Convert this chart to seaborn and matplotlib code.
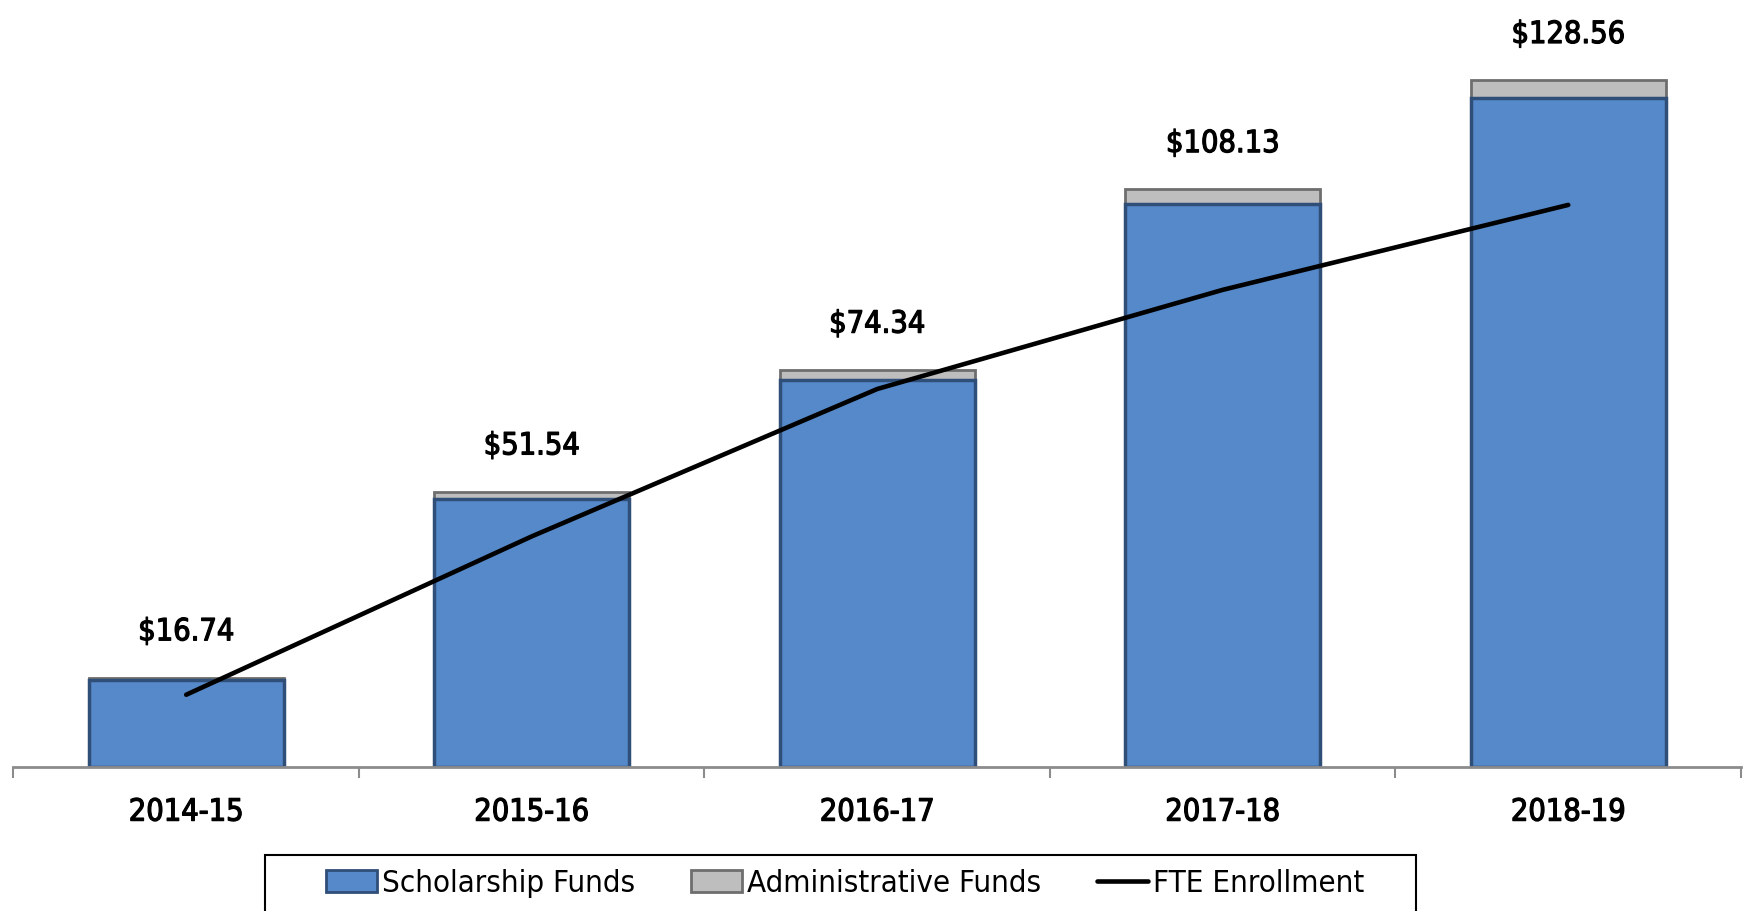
import numpy as np
import pandas as pd
import matplotlib
matplotlib.use("Agg")
import matplotlib.pyplot as plt
import matplotlib.patheffects as pe
import seaborn as sns
from matplotlib.patches import Patch, Rectangle
from matplotlib.lines import Line2D

years = ["2014-15", "2015-16", "2016-17", "2017-18", "2018-19"]
totals = [16.74, 51.54, 74.34, 108.13, 128.56]
admin_funds = [0.5, 1.3, 1.9, 2.7, 3.3]
scholarship_funds = [t - a for t, a in zip(totals, admin_funds)]
fte_enrollment = [1320, 4210, 6900, 8710, 10260]
labels = ["$16.74", "$51.54", "$74.34", "$108.13", "$128.56"]

sns.set_theme(style="white")
plt.rcParams['font.family'] = ['DejaVu Sans']
plt.rcParams['font.stretch'] = 'condensed'

medium = [pe.withStroke(linewidth=0.9, foreground="black")]

fig = plt.figure(figsize=(17.48, 9.11), dpi=100)
ax = fig.add_axes([0.0077, 0.158, 0.9883, 0.842])

df = pd.DataFrame({"year": years, "total": totals, "scholar": scholarship_funds})
blue = "#5589C9"
gray = "#BEBEBE"
sns.barplot(data=df, x="year", y="total", color=gray, width=0.565, ax=ax,
            edgecolor="#6E6E6E", linewidth=2, saturation=1)
sns.barplot(data=df, x="year", y="scholar", color=blue, width=0.565, ax=ax,
            edgecolor="#2F4E78", linewidth=2.5, saturation=1)

ax.set_xlim(-0.5, 4.5)
ax.set_ylim(0, 143.6)
ax.set_xlabel("")
ax.set_ylabel("")
ax.set_yticks([])
for s in ["top", "left", "right"]:
    ax.spines[s].set_visible(False)
ax.spines["bottom"].set_color("#8C8C8C")
ax.spines["bottom"].set_linewidth(2)
ax.set_xticks(range(5))
ax.set_xticklabels(years, fontsize=22, color="black")
for t in ax.get_xticklabels():
    t.set_path_effects(medium)
ax.tick_params(axis="x", which="major", length=0, pad=22)
ax.set_xticks(np.arange(-0.5, 5, 1), minor=True)
ax.tick_params(axis="x", which="minor", length=8, width=1.5, color="#8C8C8C", bottom=True)

for i, (t, lab) in enumerate(zip(totals, labels)):
    ax.annotate(lab, xy=(i, t), xytext=(0, 33), textcoords="offset points",
                ha="center", va="center", fontsize=22, color="black",
                path_effects=medium)

ax2 = ax.twinx()
sns.lineplot(x=np.arange(5), y=fte_enrollment, ax=ax2, color="black", linewidth=3.3)
ax2.set_ylim(0, 14000)
ax2.set_xlim(-0.5, 4.5)
ax2.set_yticks([])
for s in ["top", "left", "right", "bottom"]:
    ax2.spines[s].set_visible(False)

# legend frame (cut off by the bottom edge, as in the reference)
fig.patches.append(Rectangle((265 / 1748, -0.05), 1151 / 1748, 0.05 + 56 / 911,
                             transform=fig.transFigure, facecolor="white",
                             edgecolor="black", linewidth=1.5, zorder=5))

handles = [Patch(facecolor=blue, edgecolor="#2F4E78", linewidth=2),
           Patch(facecolor=gray, edgecolor="#6E6E6E", linewidth=2),
           Line2D([0], [0], color="black", linewidth=3.3)]
leg = fig.legend(handles, ["Scholarship Funds", "Administrative Funds", "FTE Enrollment"],
                 loc="center", bbox_to_anchor=(0.4835, 1 - 883 / 911), ncol=3,
                 fontsize=22.4, frameon=False,
                 handlelength=1.65, handletextpad=0.15, columnspacing=1.8,
                 borderpad=0, borderaxespad=0)
leg.set_zorder(6)
for t in leg.get_texts():
    t.set_color("black")

fig.savefig("out.png", dpi=100)
